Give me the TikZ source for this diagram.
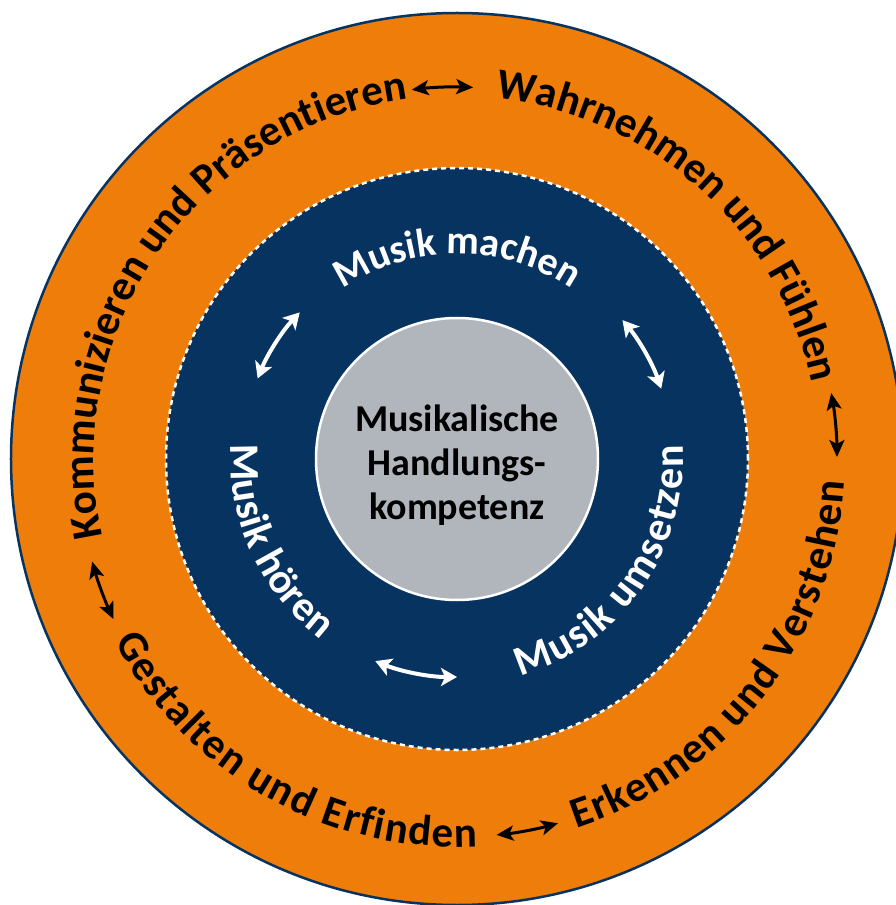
\documentclass[tikz,border=0pt]{standalone}
\usepackage{fontspec}
\setmainfont{Carlito}
\usepackage{tikz}
\usetikzlibrary{arrows.meta,decorations.text}
\usepackage{xcolor}
\definecolor{ringorange}{RGB}{238,125,10}
\definecolor{ringblue}{RGB}{7,51,97}
\definecolor{coregray}{RGB}{177,182,188}
\newcommand{\outerfont}{\fontsize{43}{43}\selectfont\bfseries}
\newcommand{\innerfont}{\fontsize{40}{40}\selectfont\bfseries}
\newcommand{\sidefont}{\fontsize{42}{42}\selectfont\bfseries}
\newcommand{\corefont}{\fontsize{38}{44}\selectfont\bfseries}
\tikzset{
  outertext/.style={decorate,decoration={text along path,text align=center,text color=black,text={|\outerfont|#1}}},
  outerfit/.style={decorate,decoration={text along path,text align=fit to path,text color=black,text={|\outerfont|#1}}},
  innertext/.style={decorate,decoration={text along path,text align=center,text color=white,text={|\innerfont|#1}}},
  sidetext/.style={decorate,decoration={text along path,text align=fit to path,text color=white,text={|\sidefont|#1}}},
  outerarrow/.style={line width=3pt,black,{Stealth[length=17pt,width=15pt,inset=4pt]}-{Stealth[length=17pt,width=15pt,inset=4pt]}},
  innerarrow/.style={line width=4pt,white,{Stealth[length=16pt,width=18pt,inset=4pt]}-{Stealth[length=16pt,width=18pt,inset=4pt]}}
}

\begin{document}
\begin{tikzpicture}[x=1pt,y=1pt]
        \def\Rout{446}
        \def\Rdash{291}
        \def\Rcore{141}
        \def\Rtop{363}
        \def\Rbot{388}
        \def\Rmach{205}
        \def\Rside{226}
        \useasboundingbox (-457,-446) rectangle (438,459);
        % rings
        \fill[ringorange,draw=ringblue,line width=2.5pt] (0,0) circle (\Rout);
        \fill[ringblue] (0,0) circle (\Rdash);
        \draw[white,line width=2.5pt,dash pattern=on 5pt off 4pt] (0,0) circle (\Rdash);
        \node[circle,fill=coregray,draw=white,line width=2.5pt,minimum size=2*\Rcore,inner sep=0pt] (core) at (0,0) {};
        \node[align=center,font=\corefont] (coretext) at ([yshift=-6pt]core.center) {Musikalische\\Handlungs-\\kompetenz};
        % outer ring texts
        \path[outertext={Kommunizieren und Präsentieren}] (205:\Rtop) arc[start angle=205,end angle=85,radius=\Rtop];
        \path[outertext={Wahrnehmen und Fühlen}] (108:\Rtop) arc[start angle=108,end angle=-12,radius=\Rtop];
        \path[outerfit={Gestalten und Erfinden}] (-152:\Rbot) arc[start angle=-152,end angle=-87,radius=\Rbot];
        \path[outerfit={Erkennen und Verstehen}] (-72:\Rbot) arc[start angle=-72,end angle=-3.4,radius=\Rbot];
        % inner ring texts
        \path[innertext={Musik machen}] (150:\Rmach) arc[start angle=150,end angle=30,radius=\Rmach];
        \path[sidetext={Musik umsetzen}] (-73.7:\Rside) arc[start angle=-73.7,end angle=3.5,radius=\Rside];
        \path[sidetext={Musik hören}] (176.4:\Rside) arc[start angle=176.4,end angle=232.9,radius=\Rside];
        % outer arrows
        \draw[outerarrow] (97:372) arc[start angle=97,end angle=87.5,radius=372];
        \draw[outerarrow] (10:380) arc[start angle=10,end angle=0.3,radius=380];
        \draw[outerarrow] (-84:378) arc[start angle=-84,end angle=-74.5,radius=378];
        \draw[outerarrow] (195.7:379) arc[start angle=195.7,end angle=205,radius=379];
        % inner arrows
        \draw[innerarrow] (137:215) arc[start angle=137,end angle=158,radius=215];
        \draw[innerarrow] (40:216) arc[start angle=40,end angle=19,radius=216];
        \draw[innerarrow] (248:218) arc[start angle=248,end angle=270,radius=218];
        %\draw[red] (0,0) circle (375);
\end{tikzpicture}
\end{document}
